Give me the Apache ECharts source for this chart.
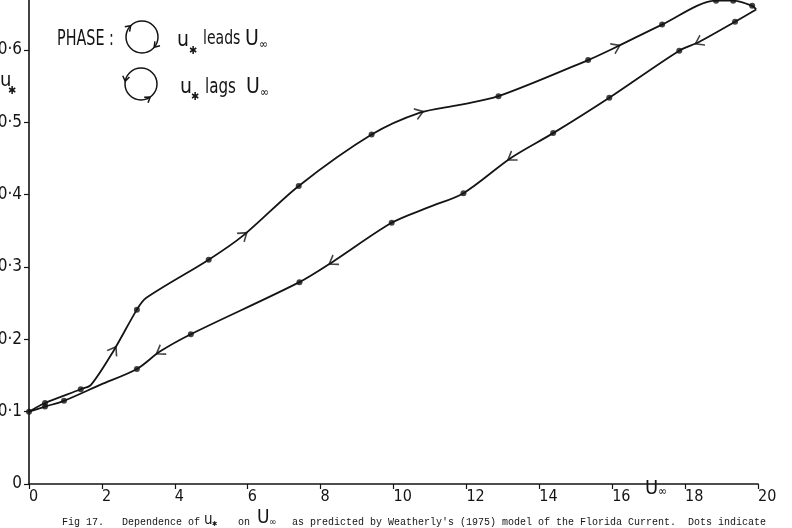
<!DOCTYPE html>
<html>
<head>
<meta charset="utf-8">
<script src="https://cdn.jsdelivr.net/npm/echarts@6/dist/echarts.min.js"></script>
<style>
  html, body { margin: 0; padding: 0; background: #fff; }
  #chart { width: 792px; height: 528px; }
</style>
</head>
<body>
<div id="chart"></div>
<script>
// u* against U∞: [U∞, u*]
// upper branch: u* leads U∞ (loop runs to the right)
const leadCurve = [
  [0, 0.100], [0.44, 0.112], [1.42, 0.131], [1.70, 0.137], [2.33, 0.185],
  [2.96, 0.241], [3.21, 0.257], [4.93, 0.310], [5.89, 0.344], [7.40, 0.412],
  [9.40, 0.483], [10.71, 0.513], [11.81, 0.524], [12.88, 0.536], [15.34, 0.586],
  [16.11, 0.604], [17.37, 0.635], [18.85, 0.668], [19.32, 0.668], [19.84, 0.661],
  [19.95, 0.656]
]
const leadDots = [
  [0.44, 0.112], [1.42, 0.131], [2.96, 0.241], [4.93, 0.310], [7.40, 0.412],
  [9.40, 0.483], [12.88, 0.536], [15.34, 0.586], [17.37, 0.635], [18.85, 0.668],
  [19.32, 0.668], [19.84, 0.661]
]
const leadArrows = [[2.33, 0.185], [5.89, 0.344], [10.71, 0.513], [16.11, 0.604]]

// lower branch: u* lags U∞ (loop runs back to the left)
const lagCurve = [
  [19.95, 0.656], [19.37, 0.639], [18.38, 0.611], [17.84, 0.599], [15.92, 0.534],
  [14.38, 0.485], [13.23, 0.451], [11.92, 0.402], [10.99, 0.383], [9.95, 0.361],
  [8.33, 0.307], [7.42, 0.279], [4.44, 0.207], [3.59, 0.183], [2.96, 0.159],
  [1.95, 0.137], [0.96, 0.115], [0.44, 0.107], [0, 0.100]
]
const lagDots = [
  [19.37, 0.639], [17.84, 0.599], [15.92, 0.534], [14.38, 0.485], [11.92, 0.402],
  [9.95, 0.361], [7.42, 0.279], [4.44, 0.207], [2.96, 0.159], [0.96, 0.115],
  [0.44, 0.107], [0, 0.100]
]
const lagArrows = [[18.38, 0.611], [13.23, 0.451], [8.33, 0.307], [3.59, 0.183]]

const ink = '#141414'
const hand = 'DejaVu Sans Condensed, DejaVu Sans, sans-serif'
const mono = 'Liberation Mono, monospace'

function txt (text, x, y, size, family, sx) {
  return {
    type: 'text',
    x: x,
    y: y,
    scaleX: sx || 1,
    silent: true,
    style: {
      text: text,
      fill: ink,
      fontSize: size,
      fontFamily: family || hand,
      align: 'left',
      verticalAlign: 'middle'
    }
  }
}

// little circular-arrow icons of the legend
function loopIcon (cx, cy, r, dir, marks) {
  const els = [{
    type: 'circle',
    silent: true,
    shape: { cx: cx, cy: cy, r: r },
    style: { stroke: ink, fill: null, lineWidth: 1.5 }
  }]
  marks.forEach(function (deg) {
    const t = deg * Math.PI / 180
    const px = cx + r * Math.cos(t)
    const py = cy + r * Math.sin(t)
    // tangent, clockwise on screen when dir = 1
    const tx = -Math.sin(t) * dir
    const ty = Math.cos(t) * dir
    const back = 6
    const spread = 0.6
    const a1 = [px - back * (tx * Math.cos(spread) - ty * Math.sin(spread)), py - back * (ty * Math.cos(spread) + tx * Math.sin(spread))]
    const a2 = [px - back * (tx * Math.cos(-spread) - ty * Math.sin(-spread)), py - back * (ty * Math.cos(-spread) + tx * Math.sin(-spread))]
    els.push({
      type: 'polyline',
      silent: true,
      shape: { points: [a1, [px, py], a2] },
      style: { stroke: ink, fill: null, lineWidth: 1.5 }
    })
  })
  return els
}

const option = {
  animation: false,
  backgroundColor: '#fff',
  grid: {
    left: 29,
    right: 34,
    top: 0,
    bottom: 44,
    containLabel: false,
    outerBoundsMode: 'none'
  },
  xAxis: {
    type: 'value',
    min: 0,
    max: 20,
    interval: 2,
    axisLine: { show: true, onZero: false, lineStyle: { color: ink, width: 1.6 } },
    axisTick: { show: true, length: 5, lineStyle: { color: ink, width: 1.2 } },
    axisLabel: { color: ink, fontSize: 16, fontFamily: hand, align: 'left', margin: 5 },
    splitLine: { show: false }
  },
  yAxis: {
    type: 'value',
    min: 0,
    max: 0.669,
    interval: 0.1,
    axisLine: { show: true, onZero: false, lineStyle: { color: ink, width: 1.6 } },
    axisTick: { show: true, length: 5, lineStyle: { color: ink, width: 1.2 } },
    axisLabel: {
      color: ink,
      fontSize: 17,
      fontFamily: hand,
      margin: 7,
      showMaxLabel: false,
      formatter: function (v) {
        return v === 0 ? '0' : v.toFixed(1).replace('.', '·')
      }
    },
    splitLine: { show: false }
  },
  series: [
    {
      type: 'line',
      name: 'leads',
      data: leadCurve,
      smooth: 0.3,
      showSymbol: false,
      silent: true,
      lineStyle: { color: ink, width: 1.8 }
    },
    {
      type: 'line',
      name: 'lags',
      data: lagCurve,
      smooth: 0.3,
      showSymbol: false,
      silent: true,
      lineStyle: { color: ink, width: 1.8 }
    },
    {
      type: 'scatter',
      data: leadDots.concat(lagDots),
      symbolSize: 6,
      silent: true,
      itemStyle: { color: ink }
    },
    {
      id: 'leadArrows',
      type: 'scatter',
      data: leadArrows,
      symbol: 'path://M0,9 L5,0 L10,9',
      symbolSize: [11, 8],
      silent: true,
      itemStyle: { color: 'rgba(0,0,0,0)', borderColor: ink, borderWidth: 1.5 }
    },
    {
      id: 'lagArrows',
      type: 'scatter',
      data: lagArrows,
      symbol: 'path://M0,9 L5,0 L10,9',
      symbolSize: [11, 8],
      silent: true,
      itemStyle: { color: 'rgba(0,0,0,0)', borderColor: ink, borderWidth: 1.5 }
    }
  ],
  graphic: [
    // axis names
    txt('u', 0, 81, 20),
    txt('✱', 8, 91, 11),
    txt('U', 645, 489, 20),
    txt('∞', 658, 492, 12),
    // phase legend
    txt('PHASE :', 57, 40, 21, hand, 0.76),
    txt('u', 177, 41, 21),
    txt('✱', 189, 51, 11),
    txt('leads', 203, 39, 20, hand, 0.78),
    txt('U', 245, 40, 21),
    txt('∞', 259, 45, 12),
    txt('u', 180, 88, 21),
    txt('✱', 191, 97, 11),
    txt('lags', 205, 88, 21, hand, 0.8),
    txt('U', 246, 88, 21),
    txt('∞', 260, 93, 12)
  ]
    .concat(loopIcon(142, 37, 16, 1, [225, 40]))
    .concat(loopIcon(141, 84, 16, -1, [190, 55]))
    .concat([
      // caption
      txt('Fig 17.   Dependence of', 62, 522, 10, mono),
      txt('u', 204, 520, 15),
      txt('✱', 212, 524, 7),
      txt('on', 238, 522, 10, mono),
      txt('U', 257, 518, 19),
      txt('∞', 269, 522, 10),
      txt("as predicted by Weatherly's (1975) model of the Florida Current.  Dots indicate", 292, 522, 10, mono)
    ])
}

const chart = echarts.init(document.getElementById('chart'))
chart.setOption(option)

// turn each arrow head along the curve, in screen space
function arrowItems (curve, arrows) {
  return arrows.map(function (p) {
    const i = curve.findIndex(function (c) { return c[0] === p[0] && c[1] === p[1] })
    const a = chart.convertToPixel({ gridIndex: 0 }, curve[i - 1])
    const b = chart.convertToPixel({ gridIndex: 0 }, curve[i + 1])
    const ang = Math.atan2(-(b[1] - a[1]), b[0] - a[0]) * 180 / Math.PI
    return { value: p, symbolRotate: ang - 90 }
  })
}
chart.setOption({
  series: [
    { id: 'leadArrows', data: arrowItems(leadCurve, leadArrows) },
    { id: 'lagArrows', data: arrowItems(lagCurve, lagArrows) }
  ]
})
</script>
</body>
</html>
